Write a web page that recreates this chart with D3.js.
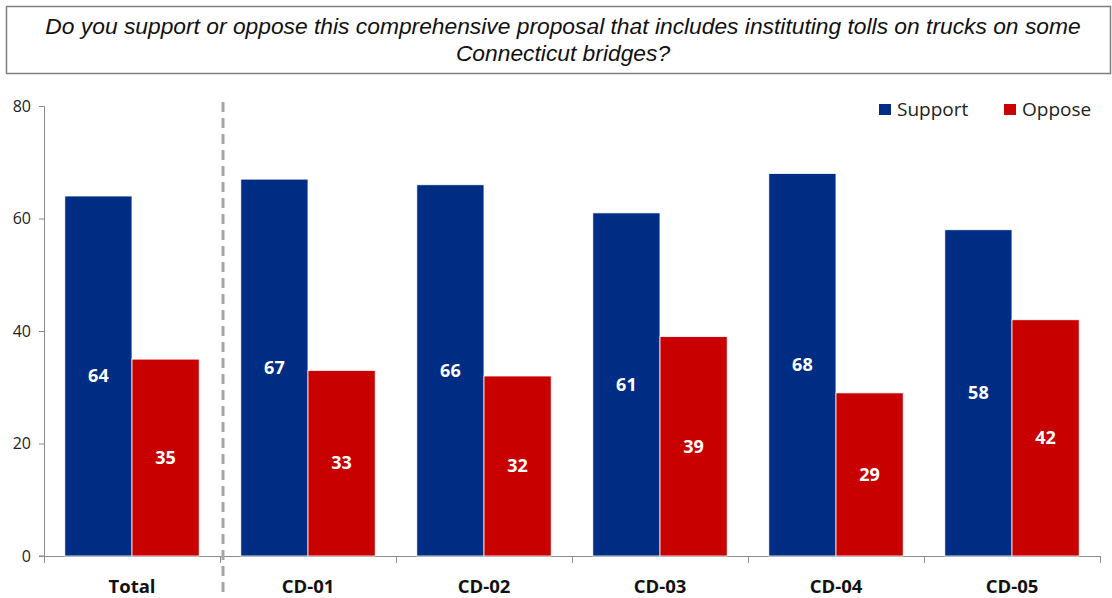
<!DOCTYPE html>
<html>
<head>
<meta charset="utf-8">
<script src="https://cdn.jsdelivr.net/npm/d3@7"></script>
<style>
  body { margin: 0; background: #fff; }
  svg { display: block; }
  .tick text { font-family: "Open Sans", sans-serif; font-size: 16px; fill: #222; }
  .bar-label { font-family: "Open Sans", sans-serif; font-weight: bold; font-size: 18px; fill: #fff; }
</style>
</head>
<body>
<svg width="1112" height="598"></svg>
<script>
// data
const categories = ['Total', 'CD-01', 'CD-02', 'CD-03', 'CD-04', 'CD-05'];
const support = [64, 67, 66, 61, 68, 58];
const oppose = [35, 33, 32, 39, 29, 42];
const seriesNames = ['Support', 'Oppose'];
const yTicks = [0, 20, 40, 60, 80];
const colors = ['#002D84', '#C80000'];
const title = ['Do you support or oppose this comprehensive proposal that includes instituting tolls on trucks on some',
               'Connecticut bridges?'];

const svg = d3.select('svg');
const margin = {top: 106, right: 12, bottom: 42, left: 44};
const width = 1112 - margin.left - margin.right;
const height = 598 - margin.top - margin.bottom;

//title box
svg.append('rect')
    .attr('x', 6.5).attr('y', 6.5)
    .attr('width', 1104).attr('height', 67)
    .attr('fill', '#fff').attr('stroke', '#7f7f7f').attr('stroke-width', 1.5);
svg.append('text')
    .attr('x', 563).attr('y', 34)
    .attr('text-anchor', 'middle')
    .style('font-family', '"Liberation Sans", Arial, sans-serif')
    .style('font-style', 'italic').style('font-size', '22.8px').attr('fill', '#111')
    .selectAll('tspan').data(title).join('tspan')
    .attr('x', 563).attr('dy', (d, i) => i ? 27 : 0)
    .text(d => d);

const chart = svg.append('g')
    .attr('transform', 'translate(' + margin.left + ',' + margin.top + ')');

//Scales
const xScale = d3.scaleBand().domain(categories).range([0, width]).paddingInner(0).paddingOuter(0);
const xInner = d3.scaleBand().domain(seriesNames).range([0, xScale.bandwidth()]).paddingInner(0).paddingOuter(0.31);
const yScale = d3.scaleLinear().domain([0, 80]).range([height, 0]);

//Axes
const yAxis = d3.axisLeft(yScale).tickValues(yTicks).tickSize(5).tickPadding(8);
const yAxisGroup = chart.append('g').call(yAxis);
yAxisGroup.select('.domain').attr('stroke', '#8c8c8c').attr('d', 'M-5,0.5H0.5V' + height + 'H-5');
yAxisGroup.selectAll('.tick line').attr('stroke', '#8c8c8c');

const xAxisGroup = chart.append('g').attr('transform', 'translate(0,' + height + ')');
xAxisGroup.append('line').attr('x1', 0).attr('x2', width).attr('y1', 0.5).attr('y2', 0.5)
    .attr('stroke', '#8c8c8c');
xAxisGroup.selectAll('.xt').data(d3.range(categories.length + 1)).join('line')
    .attr('class', 'xt')
    .attr('x1', i => i * xScale.step() + 0.5).attr('x2', i => i * xScale.step() + 0.5)
    .attr('y1', 0).attr('y2', 7).attr('stroke', '#8c8c8c');
xAxisGroup.selectAll('.xl').data(categories).join('text')
    .attr('class', 'xl')
    .attr('x', d => xScale(d) + xScale.bandwidth() / 2).attr('y', 37)
    .attr('text-anchor', 'middle')
    .style('font-family', '"Open Sans", sans-serif').style('font-weight', 'bold').style('font-size', '18.5px')
    .attr('fill', '#111')
    .text(d => d);

//Draw marks
const rows = categories.map((c, i) => ({cat: c, values: [support[i], oppose[i]]}));
const groups = chart.selectAll('.grp').data(rows).join('g')
    .attr('class', 'grp')
    .attr('transform', d => 'translate(' + xScale(d.cat) + ',0)');
groups.selectAll('rect')
    .data(d => d.values.map((v, j) => ({name: seriesNames[j], v: v, j: j})))
    .join('rect')
    .attr('x', d => xInner(d.name))
    .attr('y', d => yScale(d.v))
    .attr('width', xInner.bandwidth())
    .attr('height', d => height - yScale(d.v))
    .attr('fill', d => colors[d.j])
    .attr('stroke', '#fff').attr('stroke-width', 0.8);
groups.selectAll('.bar-label')
    .data(d => d.values.map((v, j) => ({name: seriesNames[j], v: v})))
    .join('text')
    .attr('class', 'bar-label')
    .attr('x', d => xInner(d.name) + xInner.bandwidth() / 2)
    .attr('y', d => (yScale(d.v) + height) / 2)
    .attr('dy', '0.35em')
    .attr('text-anchor', 'middle')
    .text(d => d.v);

//dashed separator after Total
chart.append('line')
    .attr('x1', xScale.step() + 3).attr('x2', xScale.step() + 3)
    .attr('y1', -4).attr('y2', 598 - margin.top)
    .attr('stroke', '#a6a6a6').attr('stroke-width', 3)
    .attr('stroke-dasharray', '10,6');

//legend
const legend = svg.append('g').attr('transform', 'translate(879,104)');
const legendX = [0, 125];
seriesNames.forEach((name, i) => {
    legend.append('rect').attr('x', legendX[i]).attr('y', 0)
        .attr('width', 12).attr('height', 11).attr('fill', colors[i]);
    legend.append('text').attr('x', legendX[i] + 18).attr('y', 12)
        .style('font-family', '"Open Sans", sans-serif').style('font-size', '19px').attr('fill', '#222')
        .text(name);
});
</script>
</body>
</html>
